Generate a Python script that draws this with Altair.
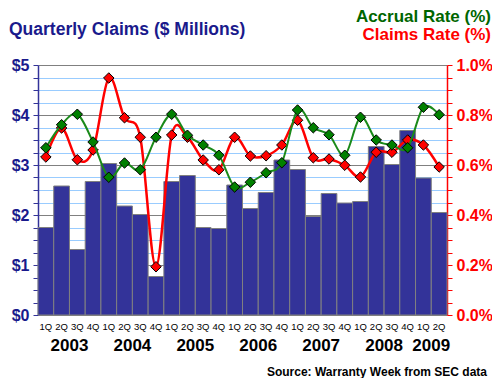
import altair as alt
import pandas as pd

quarters = ["1Q", "2Q", "3Q", "4Q"] * 6 + ["1Q", "2Q"]
years = ["2003", "2004", "2005", "2006", "2007", "2008", "2009"]
year_quarter_counts = [4, 4, 4, 4, 4, 4, 2]
claims = [1.75, 2.58, 1.31, 2.67, 3.03, 2.18, 2.01, 0.77, 2.67, 2.79, 1.75, 1.73, 2.60,
          2.13, 2.45, 3.10, 2.91, 1.97, 2.43, 2.24, 2.27, 3.37, 3.01, 3.69, 2.74, 2.05]
accrual_rate = [0.669, 0.761, 0.803, 0.692, 0.551, 0.608, 0.581, 0.711, 0.803, 0.719, 0.680,
                0.639, 0.512, 0.531, 0.569, 0.609, 0.820, 0.749, 0.721, 0.639, 0.791, 0.700,
                0.680, 0.669, 0.831, 0.801]
claims_rate = [0.632, 0.748, 0.621, 0.660, 0.948, 0.789, 0.711, 0.193, 0.720, 0.711, 0.620,
               0.581, 0.711, 0.636, 0.637, 0.680, 0.779, 0.629, 0.624, 0.599, 0.552, 0.651,
               0.651, 0.700, 0.680, 0.592]

FONT = "Liberation Sans"
NAVY = "#1a1a8c"
BAR = "#333399"
GREEN = "#006600"
LGREEN = "#1a8a1a"
RED = "#ff0000"
GRAY = "#808080"
LBLUE = "#99ccff"

n = len(claims)
df = pd.DataFrame({
    "start": list(range(n)),
    "end": [i + 1 for i in range(n)],
    "mid": [i + 0.5 for i in range(n)],
    "quarter": quarters,
    "claims": claims,
    "accrual": accrual_rate,
    "crate": claims_rate,
})

centers = []
acc = 0
for c in year_quarter_counts:
    centers.append(acc + c / 2)
    acc += c
ydf = pd.DataFrame({"year": years, "center": centers})

xscale = alt.Scale(domain=[0, n], nice=False, zero=False)
lscale = alt.Scale(domain=[0, 5], nice=False, zero=True)
rscale = alt.Scale(domain=[0, 1], nice=False, zero=True)

left_axis = alt.Axis(
    orient="left", values=[k * 0.25 for k in range(21)],
    labelExpr="datum.value % 1 == 0 ? '$' + datum.value : ''",
    labelFont=FONT, labelFontSize=16, labelFontWeight="bold", labelColor=NAVY,
    labelOverlap=False, labelPadding=4,
    domainColor=BAR, domainWidth=1.5, tickColor=BAR, tickSize=5,
    grid=True,
    gridColor={"condition": {"test": "datum.value % 1 != 0", "value": LBLUE}, "value": GRAY},
    title=None,
)

right_axis = alt.Axis(
    orient="right", values=[round(k * 0.05, 2) for k in range(21)],
    labelExpr="round(datum.value * 100) % 20 == 0 ? format(datum.value, '.1f') + '%' : ''",
    labelFont=FONT, labelFontSize=16, labelFontWeight="bold", labelColor=RED,
    labelOverlap=False, labelPadding=4,
    domainColor=RED, domainWidth=1.5, tickColor=RED, tickSize=5,
    grid=False, title=None,
)

x_axis = alt.Axis(
    values=list(range(n + 1)), labels=False, title=None, grid=True, gridColor=GRAY,
    domainColor=BAR, domainWidth=1.5, tickColor="#000000", tickSize=4,
)

base = alt.Chart(df)

bars = base.mark_rect(fill=BAR, stroke=GRAY, strokeWidth=1).encode(
    x=alt.X("start:Q", scale=xscale, axis=x_axis),
    x2="end:Q",
    y=alt.Y("claims:Q", scale=lscale, axis=left_axis),
    y2=alt.Y2(datum=0),
)

qlabels = base.mark_text(font=FONT, fontSize=9.5, color="#000000", baseline="middle").encode(
    x=alt.X("mid:Q", scale=xscale, axis=None),
    y=alt.value(262),
    text="quarter:N",
)

ylabels = alt.Chart(ydf).mark_text(font=FONT, fontSize=17, fontWeight="bold", color="#000000",
                                   baseline="middle").encode(
    x=alt.X("center:Q", scale=xscale, axis=None),
    y=alt.value(281),
    text="year:N",
)

title_left = alt.Chart(pd.DataFrame({"t": ["Quarterly Claims ($ Millions)"]})).mark_text(
    font=FONT, fontSize=17.5, fontWeight="bold", color=NAVY, align="left", baseline="middle"
).encode(x=alt.value(-29), y=alt.value(-35), text="t:N")
acc_title = alt.Chart(pd.DataFrame({"t": ["Accrual Rate (%)"]})).mark_text(
    font=FONT, fontSize=17, fontWeight="bold", color=GREEN, align="right", baseline="top"
).encode(x=alt.value(453), y=alt.value(-56), text="t:N")
clm_title = alt.Chart(pd.DataFrame({"t": ["Claims Rate (%)"]})).mark_text(
    font=FONT, fontSize=17, fontWeight="bold", color=RED, align="right", baseline="middle"
).encode(x=alt.value(453), y=alt.value(-30), text="t:N")
source = alt.Chart(pd.DataFrame({"t": ["Source: Warranty Week from SEC data"]})).mark_text(
    font=FONT, fontSize=12, fontWeight="bold", color="#000000", align="right", baseline="middle"
).encode(x=alt.value(449), y=alt.value(307), text="t:N")

left = alt.layer(bars, qlabels, ylabels, title_left, acc_title, clm_title, source)

red_line = base.mark_line(color=RED, strokeWidth=2.5, interpolate="cardinal").encode(
    x=alt.X("mid:Q", scale=xscale, axis=None),
    y=alt.Y("crate:Q", scale=rscale, axis=right_axis),
)
red_pts = base.mark_point(shape="diamond", filled=True, fill=RED, stroke="#000000",
                          strokeWidth=1, size=110, opacity=1).encode(
    x=alt.X("mid:Q", scale=xscale, axis=None),
    y=alt.Y("crate:Q", scale=rscale, axis=right_axis),
)
green_line = base.mark_line(color=LGREEN, strokeWidth=2, interpolate="cardinal").encode(
    x=alt.X("mid:Q", scale=xscale, axis=None),
    y=alt.Y("accrual:Q", scale=rscale, axis=right_axis),
)
green_pts = base.mark_point(shape="diamond", filled=True, fill="#008000", stroke="#000000",
                            strokeWidth=1, size=110, opacity=1).encode(
    x=alt.X("mid:Q", scale=xscale, axis=None),
    y=alt.Y("accrual:Q", scale=rscale, axis=right_axis),
)

right = alt.layer(red_line, red_pts, green_line, green_pts)

chart = alt.layer(left, right).resolve_scale(y="independent").resolve_axis(
    y="independent"
).properties(
    width=409, height=250,
    autosize=alt.AutoSizeParams(type="none"),
    padding={"left": 30, "top": 57, "right": 45, "bottom": 63},
).configure_view(stroke=None)

chart.save("out.html", embed_options={"renderer": "svg", "actions": False})
